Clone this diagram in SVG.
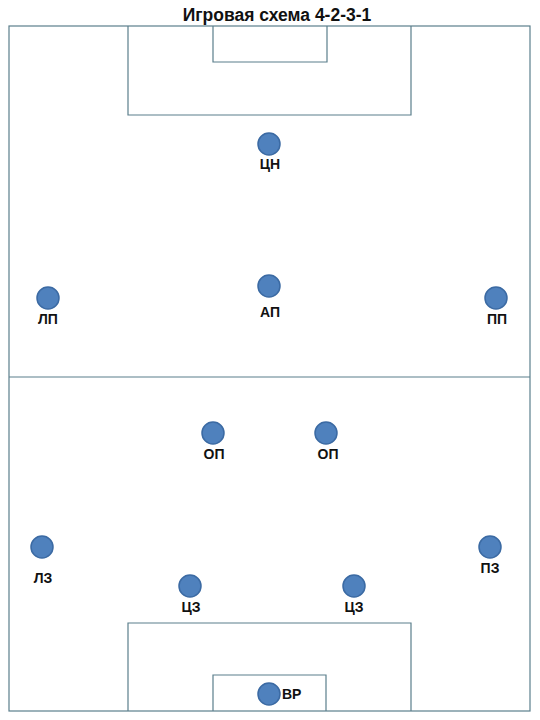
<svg xmlns="http://www.w3.org/2000/svg" width="540" height="720" viewBox="0 0 540 720">
<style>
.line{fill:none;stroke:#5b7f8c;stroke-width:1.2}
.p{fill:#4f81bd;stroke:#3b6aa3;stroke-width:1.5}
.lbl{font-family:"Liberation Sans",Arial,sans-serif;font-weight:bold;font-size:14px;fill:#111;text-anchor:middle}
.title{font-family:"Liberation Sans",Arial,sans-serif;font-weight:bold;font-size:17.5px;fill:#111;text-anchor:middle}
</style>
<rect width="540" height="720" fill="#fff"/>
<text class="title" x="277" y="21">Игровая схема 4-2-3-1</text>
<g id="field">
<rect class="line" x="9" y="26" width="521" height="685"/>
<line class="line" x1="9" y1="377" x2="530" y2="377"/>
<polyline class="line" points="128,26 128,115 411,115 411,26"/>
<polyline class="line" points="213,26 213,62 327,62 327,26"/>
<polyline class="line" points="128,711 128,623 411,623 411,711"/>
<polyline class="line" points="213,711 213,675 326,675 326,711"/>
</g>
<g id="connectors"></g>
<g id="cn"><circle class="p" cx="269" cy="144" r="11"/><text class="lbl" x="270" y="169">ЦН</text></g>
<g id="lp"><circle class="p" cx="48" cy="298" r="11"/><text class="lbl" x="48" y="324">ЛП</text></g>
<g id="ap"><circle class="p" cx="269" cy="286" r="11"/><text class="lbl" x="270" y="317">АП</text></g>
<g id="pp"><circle class="p" cx="496" cy="298" r="11"/><text class="lbl" x="497" y="324">ПП</text></g>
<g id="op1"><circle class="p" cx="213" cy="433" r="11"/><text class="lbl" x="214" y="459">ОП</text></g>
<g id="op2"><circle class="p" cx="326" cy="433" r="11"/><text class="lbl" x="328" y="459">ОП</text></g>
<g id="lz"><circle class="p" cx="42" cy="547" r="11"/><text class="lbl" x="43" y="583">ЛЗ</text></g>
<g id="pz"><circle class="p" cx="490" cy="547" r="11"/><text class="lbl" x="490" y="573">ПЗ</text></g>
<g id="cz1"><circle class="p" cx="190" cy="586" r="11"/><text class="lbl" x="191" y="612">ЦЗ</text></g>
<g id="cz2"><circle class="p" cx="354" cy="586" r="11"/><text class="lbl" x="354" y="612">ЦЗ</text></g>
<g id="vr"><circle class="p" cx="269" cy="694" r="11"/><text class="lbl" x="282" y="699" style="text-anchor:start">ВР</text></g>
</svg>
